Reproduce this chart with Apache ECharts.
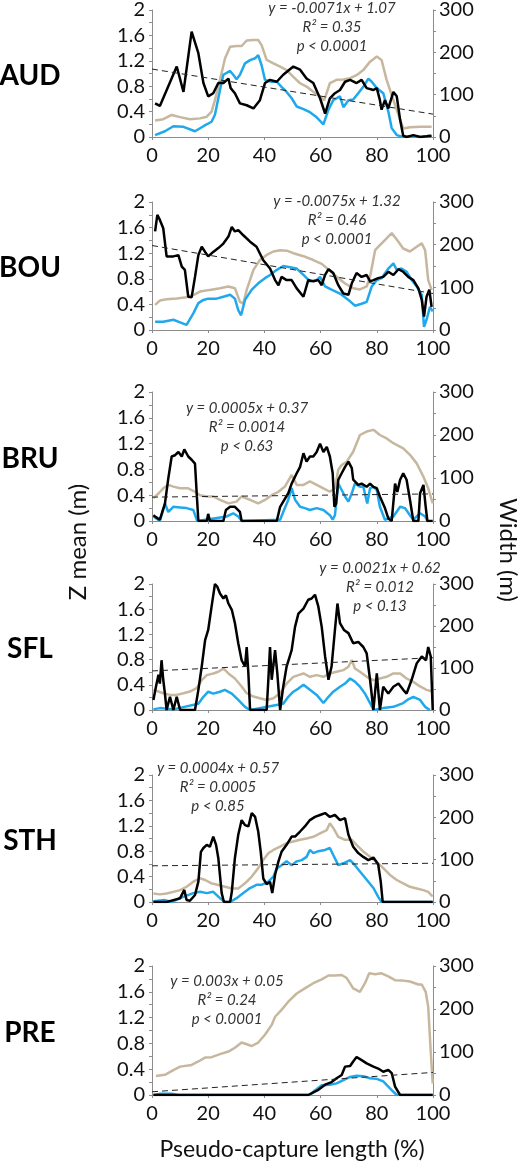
<!DOCTYPE html>
<html lang="en">
<head>
    <meta charset="utf-8">
    <title>Z mean and width along pseudo-capture length</title>
    <script src="https://cdn.jsdelivr.net/npm/echarts@6.0.0/dist/echarts.min.js"></script>
    <style>
        html, body { margin: 0; padding: 0; background: #fff; }
        #chart { width: 520px; height: 1165px; }
    </style>
</head>
<body>
    <div id="chart"></div>
    <script>
        // Sites, top to bottom
        const sites = ['AUD', 'BOU', 'BRU', 'SFL', 'STH', 'PRE'];
        const xTicks = [0, 20, 40, 60, 80, 100];

        // Regression equations (left axis, Z mean)
        const fitLabels = [
            ['y = -0.0071x + 1.07', 'R² = 0.35', 'p < 0.0001'],
            ['y = -0.0075x + 1.32', 'R² = 0.46', 'p < 0.0001'],
            ['y = 0.0005x + 0.37', 'R² = 0.0014', 'p < 0.63'],
            ['y = 0.0021x + 0.62', 'R² = 0.012', 'p < 0.13'],
            ['y = 0.0004x + 0.57', 'R² = 0.0005', 'p < 0.85'],
            ['y = 0.003x + 0.05', 'R² = 0.24', 'p < 0.0001']
        ];
        const audFit = [[0, 1.07], [100, 0.36]];
        const bouFit = [[0, 1.32], [100, 0.57]];
        const bruFit = [[0, 0.37], [100, 0.42]];
        const sflFit = [[0, 0.62], [100, 0.83]];
        const sthFit = [[0, 0.57], [100, 0.61]];
        const preFit = [[0, 0.05], [100, 0.35]];

        // AUD
        const audBlack = [[1.1,0.53],[2.8,0.49],[8.8,1.11],[11.2,0.71],[14.1,1.66],[16.5,1.32],[18.3,0.85],[20.0,0.64],[21.8,0.69],[23.6,0.85],[25.4,0.85],[27.2,0.92],[28.0,0.77],[29.5,0.69],[31.3,0.53],[33.7,0.5],[36.1,0.45],[38.4,0.58],[40.2,0.85],[42.0,0.9],[44.4,0.87],[46.7,0.98],[50.3,1.11],[52.7,1.06],[55.0,0.92],[57.4,0.85],[59.8,0.61],[61.6,0.37],[63.3,0.61],[65.1,0.69],[66.9,0.74],[68.7,0.87],[70.5,0.9],[72.8,0.85],[74.6,0.9],[76.4,0.77],[78.8,0.74],[80.0,0.77],[81.1,0.58],[81.7,0.43],[82.9,0.58],[84.1,0.45],[85.9,0.71],[87.1,0.64],[88.3,0.27],[89.4,0.02],[90.6,0],[93.0,0.03],[95.4,0],[97.7,0.01],[99.5,0.02]];
        const audBlue = [[1.1,0.03],[4.6,0.09],[7.6,0.17],[11.2,0.16],[15.3,0.09],[18.3,0.17],[21.2,0.24],[22.4,0.35],[24.2,0.74],[25.4,0.98],[27.8,1.04],[28.9,0.98],[30.1,0.91],[31.3,0.98],[33.1,1.16],[34.9,1.21],[36.7,1.24],[37.8,1.29],[39.0,1.13],[40.2,0.9],[42.6,0.87],[44.4,0.87],[46.1,0.79],[47.9,0.71],[49.7,0.61],[51.5,0.48],[53.9,0.44],[56.2,0.39],[58.6,0.31],[61.0,0.2],[62.8,0.43],[64.5,0.58],[66.9,0.64],[68.1,0.47],[69.9,0.58],[71.6,0.59],[73.4,0.69],[75.2,0.79],[77.0,0.92],[78.2,0.87],[80.0,0.77],[82.3,0.69],[84.1,0.4],[85.3,0.14],[87.1,0.03],[89.4,0],[93.0,0.01],[96.0,0],[98.9,0.02]];
        const audTan = [[1.1,39],[4.0,42],[7.0,52],[10.0,47],[13.5,42],[17.1,44],[19.5,48],[21.2,60],[22.4,87],[24.2,135],[26.0,186],[27.8,213],[30.1,215],[31.9,215],[33.7,228],[36.1,229],[37.8,229],[39.0,217],[40.8,182],[43.2,174],[45.6,166],[47.9,158],[50.3,142],[52.7,127],[55.0,119],[57.4,107],[59.8,95],[61.3,87],[63.3,127],[65.7,135],[68.1,136],[70.5,139],[72.8,146],[75.2,158],[77.6,178],[80.0,190],[81.7,182],[83.5,135],[85.3,99],[87.1,64],[89.4,20],[91.8,23],[95.4,24],[99.5,24]];

        // BOU
        const bouBlack = [[1.1,1.54],[1.9,1.8],[2.8,1.72],[4.0,1.59],[5.2,1.15],[7.6,1.15],[9.4,1.17],[10.6,0.99],[11.7,0.94],[12.9,0.52],[14.1,0.51],[15.3,0.83],[16.5,1.17],[17.7,1.3],[18.9,1.22],[20.0,1.15],[21.8,1.22],[23.6,1.28],[25.4,1.35],[27.2,1.46],[28.4,1.61],[29.5,1.54],[30.7,1.56],[32.5,1.48],[34.9,1.38],[37.2,1.3],[39.6,1.09],[42.0,0.96],[43.8,0.78],[45.0,0.7],[46.1,0.83],[47.9,0.78],[49.7,0.78],[51.5,0.65],[53.9,0.52],[55.6,0.78],[57.4,0.76],[59.2,0.78],[60.4,0.7],[61.6,0.86],[62.8,0.95],[64.5,0.89],[66.3,0.7],[68.1,0.57],[69.9,0.55],[71.1,0.73],[72.8,0.89],[74.6,0.83],[76.4,0.86],[77.6,0.76],[78.8,0.78],[80.5,0.81],[82.3,0.83],[84.1,0.91],[85.9,0.86],[87.7,0.95],[89.4,0.91],[91.2,0.83],[93.0,0.78],[94.8,0.65],[96.0,0.47],[96.8,0.21],[97.7,0.52],[98.7,0.63],[99.5,0.36]];
        const bouBlue = [[1.1,0.13],[4.0,0.13],[7.6,0.16],[10.0,0.12],[12.3,0.08],[14.7,0.26],[16.5,0.42],[18.3,0.47],[20.0,0.49],[23.0,0.49],[25.4,0.52],[27.8,0.55],[29.5,0.49],[30.7,0.31],[31.7,0.23],[33.1,0.47],[35.5,0.63],[37.8,0.73],[40.2,0.81],[42.0,0.86],[44.4,0.94],[46.7,1.0],[49.1,0.98],[51.5,0.96],[53.9,0.86],[56.2,0.76],[58.6,0.78],[59.8,0.83],[61.6,0.68],[63.9,0.63],[66.9,0.57],[69.9,0.47],[72.2,0.38],[74.6,0.41],[76.4,0.44],[78.2,0.68],[80.0,0.78],[81.7,0.81],[84.1,0.96],[85.9,1.04],[87.1,0.94],[88.8,0.96],[90.6,0.91],[92.4,0.78],[94.2,0.68],[96.0,0.55],[96.8,0.05],[97.7,0.16],[98.9,0.36],[99.9,0.29]];
        const bouTan = [[1.1,59],[2.8,69],[5.2,72],[8.8,74],[12.3,77],[14.7,82],[17.1,90],[20.6,94],[24.2,98],[27.2,102],[29.5,98],[31.3,66],[32.5,62],[33.7,94],[36.1,141],[38.4,164],[40.8,176],[43.2,184],[45.6,187],[47.9,186],[50.3,180],[53.9,173],[57.4,164],[60.4,155],[62.8,142],[65.7,125],[68.7,109],[71.6,98],[74.0,95],[76.4,102],[77.6,125],[79.4,187],[81.1,199],[83.5,215],[85.3,227],[87.1,212],[89.4,191],[91.8,184],[94.2,195],[96.0,203],[97.2,187],[98.3,117],[99.5,94]];

        // BRU
        const bruBlack = [[0.5,0.09],[1.4,0.06],[2.8,0.02],[4.6,0.27],[5.8,0.66],[7.0,1.0],[8.2,1.02],[9.4,1.07],[10.6,1.0],[11.5,1.11],[12.9,1.0],[14.1,0.95],[15.3,0.89],[15.9,0.43],[16.5,0],[19.5,0],[20.0,0.11],[20.6,0],[25.4,0],[26.3,0.17],[27.8,0.22],[29.5,0.22],[31.3,0.14],[31.9,0],[44.4,0],[45.6,0.22],[46.7,0.3],[48.5,0.43],[49.7,0.58],[51.5,0.74],[52.7,0.84],[53.9,1.05],[55.0,0.92],[56.2,1.0],[57.4,1.0],[58.6,1.07],[59.8,1.2],[61.0,1.07],[62.2,1.15],[63.3,1.0],[64.3,0.74],[64.9,0.22],[65.5,0.27],[66.3,0.64],[67.5,0.74],[68.7,0.84],[69.9,0.92],[71.1,0.82],[71.6,0.64],[73.4,0.56],[74.6,0.58],[76.4,0.53],[77.6,0.58],[78.8,0.53],[80.0,0.51],[81.1,0.38],[82.9,0.2],[84.1,0.04],[85.3,0],[86.5,0.58],[87.3,0.45],[88.3,0.64],[89.4,0.74],[90.6,0.64],[91.8,0.33],[93.0,0],[94.8,0],[95.4,0.43],[96.6,0.56],[97.4,0.22],[98.0,0],[99.9,0]];
        const bruBlue = [[0.5,0.07],[2.8,0],[4.6,0.27],[5.8,0.14],[7.6,0.22],[10.0,0.21],[12.3,0.2],[14.7,0.17],[16.1,0],[26.6,0.07],[28.9,0.12],[30.7,0.07],[31.9,0],[45.6,0.02],[46.7,0.14],[48.5,0.33],[49.7,0.51],[50.9,0.33],[52.7,0.22],[54.4,0.2],[56.2,0.17],[58.6,0.2],[61.0,0.17],[63.3,0.09],[64.3,0.02],[65.1,0.09],[66.3,0.58],[67.5,0.48],[68.7,0.38],[69.9,0.3],[71.1,0.43],[72.2,0.58],[74.0,0.53],[75.2,0.53],[76.6,0.27],[77.6,0.51],[78.8,0.53],[80.0,0.48],[81.1,0.22],[82.9,0.02],[85.9,0.07],[88.3,0.22],[90.0,0.2],[91.8,0.09],[93.0,0.02],[95.4,0.12],[97.2,0.07],[98.0,0]];
        const bruTan = [[0.5,53],[2.3,64],[4.0,76],[5.8,84],[7.6,80],[10.0,76],[12.9,76],[15.3,68],[17.1,60],[19.5,57],[21.8,57],[24.2,49],[27.2,41],[30.1,45],[31.9,57],[34.9,49],[37.8,41],[40.2,49],[42.6,60],[45.0,68],[47.3,80],[49.7,107],[51.5,84],[53.9,84],[56.2,92],[58.6,84],[61.0,76],[63.3,68],[65.1,76],[66.3,119],[67.5,130],[69.3,138],[71.6,161],[74.0,200],[76.4,208],[78.8,212],[81.1,200],[83.5,192],[85.9,181],[89.4,169],[91.8,154],[94.2,134],[96.6,103],[98.3,76],[99.9,41]];

        // SFL
        const sflBlack = [[0.5,0.16],[1.4,0.37],[2.3,0.56],[2.8,0.42],[3.4,0.79],[4.0,0.48],[4.6,0.26],[5.2,0],[6.4,0.21],[7.6,0],[8.8,0.21],[10.0,0],[15.3,0],[16.5,0.32],[17.7,0.69],[18.9,1.11],[20.0,1.27],[21.2,1.64],[22.4,2.0],[23.2,1.96],[24.2,1.85],[25.4,1.77],[26.3,1.82],[27.2,1.69],[28.4,1.59],[29.5,1.38],[30.7,1.06],[31.9,0.79],[33.1,0.69],[33.7,1.0],[34.3,0.58],[34.9,0],[40.8,0],[41.4,0.48],[42.0,1.0],[42.6,0.48],[43.8,0.95],[44.6,0.58],[45.6,0],[46.7,0.37],[47.9,0.69],[49.7,0.95],[50.9,1.32],[52.1,1.53],[53.9,1.61],[55.6,1.75],[56.8,1.77],[58.0,1.83],[59.2,1.64],[60.4,1.32],[61.6,0.85],[62.8,0.48],[63.9,0.69],[65.1,1.27],[66.0,1.69],[66.9,1.38],[68.3,1.27],[69.9,1.22],[71.6,1.06],[73.4,1.08],[75.2,1.0],[76.4,0.9],[77.6,0.48],[78.8,0],[80.0,0.58],[81.1,0],[82.3,0.37],[84.1,0.26],[85.9,0.37],[87.7,0.42],[89.4,0.32],[90.6,0.26],[92.4,0.48],[94.2,0.74],[96.0,0.85],[97.5,0.79],[98.3,1.0],[99.2,0.85],[99.9,0]];
        const sflBlue = [[0.5,0.01],[2.8,0.03],[7.6,0.01],[16.5,0.1],[18.3,0.21],[20.0,0.29],[21.8,0.26],[24.2,0.29],[25.9,0.32],[28.4,0.26],[30.7,0.16],[33.1,0.05],[34.9,0],[46.7,0.1],[48.5,0.21],[50.3,0.29],[52.1,0.34],[53.9,0.4],[56.2,0.32],[58.6,0.24],[61.0,0.11],[62.8,0.21],[64.5,0.29],[66.9,0.37],[68.7,0.42],[70.5,0.5],[72.2,0.45],[74.0,0.37],[75.8,0.26],[77.6,0.11],[78.8,0],[82.3,0.03],[85.9,0.05],[89.4,0.11],[91.2,0.17],[93.0,0.21],[95.4,0.16],[97.2,0.05],[98.9,0]];
        const sflTan = [[0.5,48],[2.3,44],[4.0,40],[6.4,36],[8.8,36],[11.2,40],[13.5,44],[15.9,52],[17.7,71],[19.5,83],[21.8,87],[23.6,91],[25.4,99],[27.2,87],[29.5,75],[31.9,56],[33.7,40],[36.1,32],[38.4,28],[40.8,24],[43.2,28],[45.6,40],[47.9,63],[50.3,79],[52.1,83],[53.9,87],[56.2,79],[58.6,83],[61.0,79],[63.3,87],[65.7,91],[68.1,95],[69.9,103],[71.1,119],[72.2,99],[74.0,91],[76.4,79],[78.8,71],[81.1,75],[83.5,79],[85.9,87],[88.3,87],[90.6,75],[93.0,67],[95.4,56],[97.7,48],[99.9,44]];

        // STH
        const sthBlack = [[0.5,0],[5.2,0],[7.6,0.03],[10.0,0.06],[11.5,0.19],[12.3,0.03],[13.5,0.02],[15.3,0.11],[16.5,0.32],[17.4,0.79],[18.3,0.85],[19.5,0.9],[20.6,0.87],[21.8,1.03],[22.8,0.9],[23.6,0.69],[24.8,0.14],[25.6,0],[27.8,0],[28.4,0.16],[29.5,0.69],[30.7,1.06],[31.9,1.29],[33.1,1.21],[34.3,1.19],[35.5,1.4],[36.7,1.34],[37.8,1.11],[38.7,0.79],[39.6,0.37],[40.8,0.28],[42.0,0.32],[42.8,0.14],[43.8,0.43],[45.0,0.64],[46.1,0.79],[47.9,0.9],[49.7,1.03],[50.9,1.03],[52.7,1.11],[54.4,1.19],[56.2,1.29],[58.0,1.34],[59.8,1.37],[61.6,1.4],[63.3,1.34],[65.1,1.37],[66.9,1.29],[68.7,1.32],[69.9,1.06],[71.6,0.87],[73.4,0.77],[75.2,0.71],[77.0,0.66],[78.8,0.7],[80.5,0.59],[81.4,0.32],[82.1,0],[90.0,0],[90.3,0.03],[91.2,0],[99.9,0]];
        const sthBlue = [[0.5,0.01],[4.6,0.03],[7.0,0],[10.0,0.06],[12.3,0.1],[14.7,0.14],[17.1,0.16],[19.5,0.14],[21.8,0.16],[24.2,0.06],[26.0,0],[27.8,0],[30.1,0.06],[32.5,0.14],[34.9,0.22],[37.2,0.27],[39.0,0.27],[41.4,0.32],[43.2,0.4],[44.4,0.53],[46.1,0.58],[47.9,0.64],[49.7,0.58],[51.5,0.64],[53.3,0.66],[55.0,0.71],[56.2,0.82],[57.4,0.77],[59.2,0.8],[61.6,0.82],[63.3,0.85],[64.5,0.74],[66.3,0.58],[68.1,0.61],[70.5,0.66],[72.2,0.58],[74.0,0.48],[76.4,0.35],[78.8,0.22],[80.5,0.08],[81.7,0],[99.9,0]];
        const sthTan = [[0.5,20],[2.8,18],[5.2,20],[7.6,24],[10.0,28],[12.3,36],[14.7,48],[17.1,56],[18.9,52],[21.2,44],[23.6,40],[26.0,36],[28.4,32],[30.7,32],[33.1,44],[35.5,60],[37.8,80],[39.6,99],[41.4,115],[43.2,123],[45.6,131],[47.9,139],[50.3,143],[52.7,147],[55.0,150],[57.4,154],[59.8,162],[62.2,170],[63.3,186],[64.5,175],[66.3,154],[68.7,147],[71.1,147],[72.8,135],[75.2,119],[77.6,107],[80.0,95],[82.3,80],[84.7,64],[87.1,52],[89.4,44],[91.8,36],[94.2,32],[96.6,28],[98.3,24],[99.9,13]];

        // PRE
        const preBlack = [[0.5,0],[55.6,0],[59.2,0.08],[61.6,0.16],[63.9,0.2],[65.7,0.26],[67.5,0.31],[68.7,0.44],[70.5,0.45],[71.6,0.52],[72.8,0.59],[74.6,0.54],[76.4,0.49],[78.8,0.44],[80.5,0.41],[82.3,0.36],[84.1,0.39],[85.3,0.34],[86.5,0.13],[88.3,0],[99.9,0]];
        const preBlue = [[0.5,0],[3.0,0.02],[7.0,0.02],[9.4,0],[56.2,0],[57.4,0.05],[60.4,0.15],[63.3,0.16],[65.7,0.18],[68.1,0.23],[70.5,0.28],[72.8,0.3],[75.2,0.29],[77.6,0.26],[80.0,0.25],[82.3,0.21],[84.1,0.13],[85.9,0.05],[87.1,0],[99.9,0]];
        const preTan = [[1.4,44],[4.6,47],[7.6,58],[10.0,66],[14.1,70],[16.5,78],[18.9,87],[21.2,88],[24.2,95],[27.2,101],[29.5,110],[31.9,122],[33.7,118],[35.5,114],[37.8,122],[40.2,140],[42.6,163],[43.8,182],[46.1,198],[48.5,217],[51.5,236],[54.4,248],[57.4,260],[60.4,269],[62.8,278],[65.1,278],[67.5,279],[69.3,272],[71.6,248],[74.0,240],[75.8,260],[77.3,283],[79.4,281],[81.7,283],[84.1,276],[86.5,267],[89.4,266],[91.8,264],[94.8,257],[96.0,257],[97.4,240],[98.3,205],[99.2,100],[99.9,27]];

        const blackSets = [audBlack, bouBlack, bruBlack, sflBlack, sthBlack, preBlack];
        const blueSets = [audBlue, bouBlue, bruBlue, sflBlue, sthBlue, preBlue];
        const tanSets = [audTan, bouTan, bruTan, sflTan, sthTan, preTan];
        const fitSets = [audFit, bouFit, bruFit, sflFit, sthFit, preFit];

        // layout
        const gridTops = [10, 202, 392, 584, 775, 966];
        const gridHeights = [127, 128, 129, 126, 127, 129];
        const eqPos = [[332, 8], [337, 201], [247, 408], [380, 568], [218, 768], [227, 981]];

        const axisGray = '#8c8c8c';
        const font = 'Lato, "Open Sans", sans-serif';
        const tickFont = { fontSize: 20, color: '#111', fontFamily: font };

        const grid = [], xAxis = [], yAxis = [], series = [], graphic = [];

        sites.forEach(function (site, i) {
            grid.push({ left: 152, right: 87, top: gridTops[i], height: gridHeights[i] });
            xAxis.push({
                gridIndex: i, type: 'value', min: 0, max: 100, interval: 20,
                axisLine: { show: true, lineStyle: { color: axisGray, width: 1 } },
                axisTick: { show: true, length: 3, lineStyle: { color: axisGray } },
                axisLabel: Object.assign({ margin: 9 }, tickFont),
                splitLine: { show: false }
            });
            yAxis.push({
                gridIndex: i, type: 'value', min: 0, max: 2, interval: 0.4, position: 'left',
                axisLine: { show: true, lineStyle: { color: axisGray, width: 1 } },
                axisTick: { show: true, length: 3, lineStyle: { color: axisGray } },
                minorTick: { show: true, splitNumber: 2, length: 3, lineStyle: { color: axisGray } },
                axisLabel: Object.assign({ margin: 7 }, tickFont),
                splitLine: { show: false }
            });
            yAxis.push({
                gridIndex: i, type: 'value', min: 0, max: 300, interval: 100, position: 'right',
                axisLine: { show: true, lineStyle: { color: axisGray, width: 1 } },
                axisTick: { show: true, length: 3, lineStyle: { color: axisGray } },
                minorTick: { show: true, splitNumber: 2, length: 3, lineStyle: { color: axisGray } },
                axisLabel: Object.assign({ margin: 6 }, tickFont),
                splitLine: { show: false }
            });

            const line = function (data, yIdx, color, width) {
                return {
                    type: 'line', xAxisIndex: i, yAxisIndex: yIdx, data: data,
                    showSymbol: false, symbol: 'none', silent: true,
                    lineStyle: { color: color, width: width }
                };
            };
            series.push(line(tanSets[i], 2 * i + 1, '#c6b79e', 2.5));
            series.push(line(blueSets[i], 2 * i, '#1fa9ec', 2.5));
            series.push(line(blackSets[i], 2 * i, '#000', 2.5));
            const fit = line(fitSets[i], 2 * i, '#222', 1);
            fit.lineStyle.type = [6, 4];
            series.push(fit);

            // site name
            graphic.push({
                type: 'text', x: 30, y: gridTops[i] + gridHeights[i] / 2 + 2,
                style: {
                    text: site, fontSize: 28, fontWeight: 'bold', fontFamily: font,
                    fill: '#000', align: 'center', verticalAlign: 'middle'
                }
            });
            // regression text
            fitLabels[i].forEach(function (t, k) {
                graphic.push({
                    type: 'text', x: eqPos[i][0], y: eqPos[i][1] + k * 19,
                    style: {
                        text: t, fontSize: 15, fontStyle: 'italic', fontFamily: font,
                        fill: '#333', align: 'center', verticalAlign: 'middle'
                    }
                });
            });
        });

        graphic.push({
            type: 'text', x: 78, y: 542, rotation: Math.PI / 2,
            style: { text: 'Z mean (m)', fontSize: 24, fontFamily: font, fill: '#111', align: 'center', verticalAlign: 'middle' }
        });
        graphic.push({
            type: 'text', x: 508, y: 550, rotation: -Math.PI / 2,
            style: { text: 'Width (m)', fontSize: 24, fontFamily: font, fill: '#111', align: 'center', verticalAlign: 'middle' }
        });
        graphic.push({
            type: 'text', x: 292, y: 1150,
            style: { text: 'Pseudo-capture length (%)', fontSize: 23, fontFamily: font, fill: '#111', align: 'center', verticalAlign: 'middle' }
        });

        const chart = echarts.init(document.getElementById('chart'), null, { renderer: 'canvas' });
        chart.setOption({
            animation: false,
            backgroundColor: '#fff',
            grid: grid,
            xAxis: xAxis,
            yAxis: yAxis,
            series: series,
            graphic: graphic
        });
    </script>
</body>
</html>
